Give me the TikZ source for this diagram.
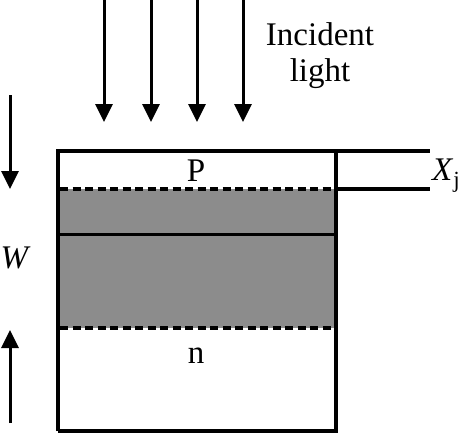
\documentclass[tikz,border=0pt]{standalone}
\usepackage{fontspec}
\setmainfont{Liberation Serif}
\usetikzlibrary{arrows.meta}
\definecolor{layergray}{RGB}{140,140,140}
\tikzset{
  arr/.style={line width=3pt,-{Triangle[width=17pt,length=18pt]}},
  edge/.style={line width=3.5pt},
  dash line/.style={line width=3.5pt,dash pattern=on 8pt off 4.5pt},
  lbl/.style={font=\fontsize{33}{36}\selectfont,inner sep=0pt}
}
\begin{document}
\begin{tikzpicture}[x=1pt,y=-1pt]
\useasboundingbox (0,0) rectangle (460,434);
% depletion layer
\fill[layergray] (58,189) rectangle (336,328);
% dashed boundaries
\draw[dash line] (60,189) -- (334,189);
\draw[dash line] (60,328) -- (334,328);
% junction line
\draw[line width=3pt] (58,234) -- (336,234);
% box
\draw[edge] (58,431) -- (58,151) -- (430,151);
\draw[edge] (58,431) -- (336,431) -- (336,151);
\draw[edge] (336,189) -- (430,189);
% incident arrows
\foreach \x [count=\i] in {104,151,197,243}{
  \coordinate (s\i) at (\x,0);
  \coordinate (e\i) at (\x,122);
  \draw[arr] (s\i) -- (e\i);
}
% W arrows
\coordinate (wa1) at (10,95);
\coordinate (wa2) at (10,189);
\coordinate (wb1) at (10,423);
\coordinate (wb2) at (10,330);
\draw[arr] (wa1) -- (wa2);
\draw[arr] (wb1) -- (wb2);
% labels
\node[lbl,align=center] (inc) at (320,56) {Incident\\light};
\node[lbl] (P) at (196,171) {P};
\node[lbl] (n) at (196,356) {n};
\node[lbl,anchor=west] (W) at (0.5,258) {\textit{W}};
\node[lbl,anchor=west] (X) at (432,176) {\textit{X}\textsubscript{j}};
\end{tikzpicture}
\end{document}
